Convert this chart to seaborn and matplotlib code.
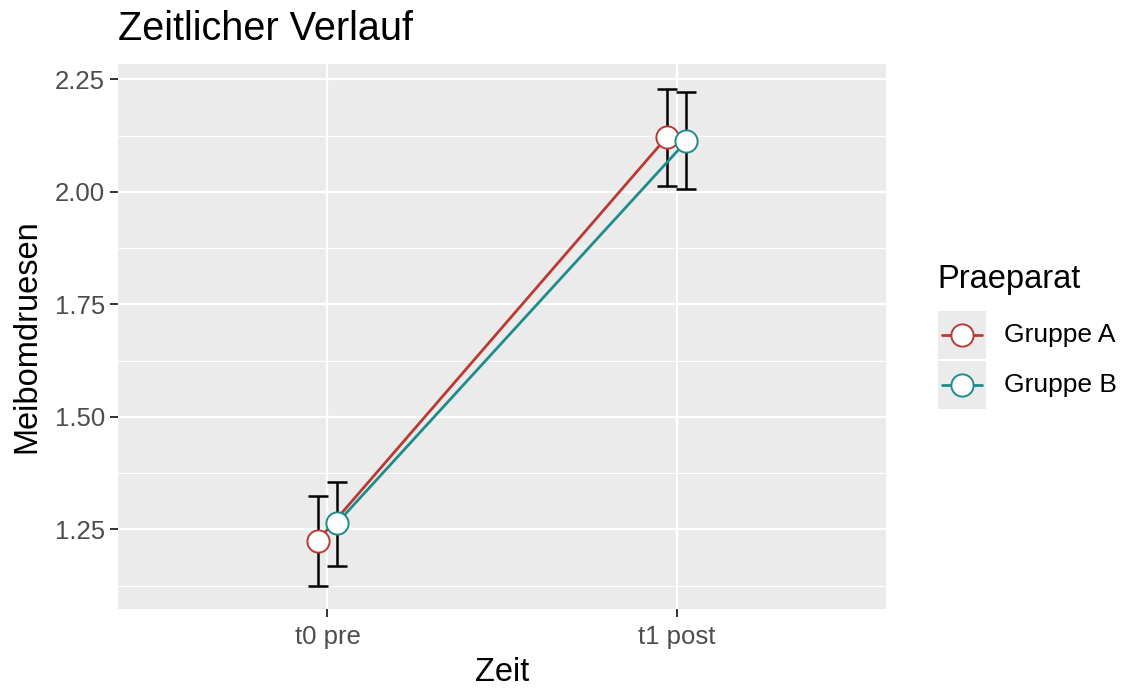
import matplotlib
matplotlib.use("Agg")
import matplotlib.pyplot as plt
from matplotlib.lines import Line2D
from matplotlib.patches import Rectangle
import seaborn as sns
import numpy as np
import pandas as pd

# data
zeit = ["t0 pre", "t1 post"]
gruppen = ["Gruppe A", "Gruppe B"]
mean_a = [1.225, 2.122]
lower_a = [1.125, 2.014]
upper_a = [1.323, 2.228]
mean_b = [1.264, 2.112]
lower_b = [1.168, 2.006]
upper_b = [1.355, 2.222]
colors = ["#B83A32", "#1F8B8B"]

W, H = 1125, 689
DODGE = 0.055

rows = []
for g_i, (g, m, lo, up) in enumerate(zip(gruppen, [mean_a, mean_b], [lower_a, lower_b], [upper_a, upper_b])):
    for t_i, t in enumerate(zeit):
        x = t_i + (g_i - 0.5) * DODGE
        rows.append({"Zeit": t, "x": x, "Praeparat": g, "mean": m[t_i], "lower": lo[t_i], "upper": up[t_i]})
df = pd.DataFrame(rows)

sns.set_theme(style="darkgrid")
plt.rcParams["font.family"] = ["Liberation Sans", "DejaVu Sans"]

fig = plt.figure(figsize=(W / 100, H / 100), dpi=100)
fig.patch.set_facecolor("white")
ax = fig.add_axes([118 / W, 1 - 609 / H, 768 / W, 545 / H])
ax.set_facecolor("#EBEBEB")

# error bars first, then lines, then points on top
for g, c in zip(gruppen, colors):
    sub = df[df["Praeparat"] == g]
    ax.errorbar(sub["x"], sub["mean"],
                yerr=[sub["mean"] - sub["lower"], sub["upper"] - sub["mean"]],
                fmt="none", ecolor="black", elinewidth=1.8, capsize=7, capthick=1.8, zorder=2)

sns.lineplot(data=df, x="x", y="mean", hue="Praeparat", palette=colors,
             linewidth=2.0, legend=False, ax=ax, zorder=3, sort=True)

for g, c in zip(gruppen, colors):
    sub = df[df["Praeparat"] == g]
    ax.plot(sub["x"], sub["mean"], linestyle="none", marker="o", markersize=16,
            markerfacecolor="white", markeredgecolor=c, markeredgewidth=1.4, zorder=4)

ax.set_xlim(-0.6, 1.6)
ax.set_ylim(1.073, 2.284)
ax.set_xticks(range(len(zeit)))
ax.set_xticklabels(zeit)
ax.set_yticks([1.25, 1.50, 1.75, 2.00, 2.25])
ax.set_yticklabels(["1.25", "1.50", "1.75", "2.00", "2.25"])
ax.set_yticks([1.125, 1.375, 1.625, 1.875, 2.125], minor=True)

ax.grid(which="major", color="white", linewidth=1.6)
ax.grid(which="minor", axis="y", color="white", linewidth=0.8)
ax.grid(which="minor", axis="x", visible=False)
for s in ax.spines.values():
    s.set_visible(False)

ax.tick_params(axis="both", which="major", length=5.5, width=1.4, color="#333333",
               labelsize=18.5, labelcolor="#4D4D4D", pad=4, left=True, bottom=True)
ax.tick_params(axis="x", which="major", pad=6)
ax.tick_params(axis="both", which="minor", length=0)

ax.set_xlabel("Zeit", fontsize=23.5, color="black", labelpad=6)
ax.set_ylabel("Meibomdruesen", fontsize=23.5, color="black", labelpad=9)

fig.text(118 / W, 1 - 40 / H, "Zeitlicher Verlauf", fontsize=28.5, color="black",
         ha="left", va="baseline")

# legend, drawn ggplot style with grey key boxes
fig.text(937 / W, 1 - 288 / H, "Praeparat", fontsize=23.5, color="black", ha="left", va="baseline")
key_top = 311
key_h = 48
for i, (g, c) in enumerate(zip(gruppen, colors)):
    top = key_top + i * (key_h + 2)
    fig.patches.append(Rectangle((938 / W, 1 - (top + key_h) / H), key_h / W, key_h / H,
                                 transform=fig.transFigure, facecolor="#EBEBEB", edgecolor="none"))
    cy = 1 - (top + key_h / 2) / H
    fig.lines.append(Line2D([942 / W, 982 / W], [cy, cy], transform=fig.transFigure,
                            color=c, linewidth=2.0))
    fig.lines.append(Line2D([962 / W], [cy], transform=fig.transFigure, linestyle="none",
                            marker="o", markersize=16, markerfacecolor="white",
                            markeredgecolor=c, markeredgewidth=1.4))
    fig.text(1004 / W, cy, g, fontsize=19, color="black", ha="left", va="center")

fig.savefig("out.png", dpi=100)
